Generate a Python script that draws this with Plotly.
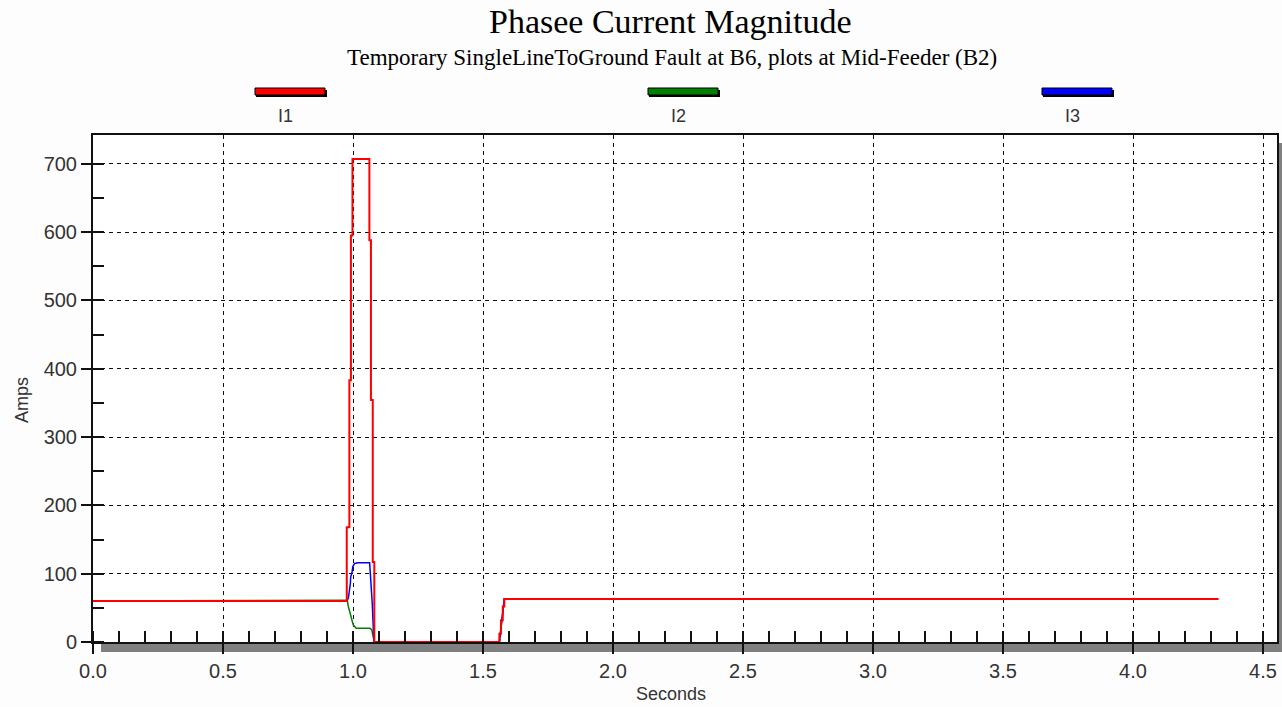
import plotly.graph_objects as go

# ---- data ----
t_i1 = [0.0, 0.976, 0.986, 0.992, 0.998, 1.063, 1.069, 1.076, 1.082, 1.563, 1.569, 1.576, 1.582, 4.328]
v_i1 = [60, 168, 383, 595, 707, 588, 354, 117, 0, 12, 32, 52, 63, 63]

t_i2 = [0.0, 0.976, 0.978, 0.982, 0.991, 0.996, 1.001, 1.012, 1.065, 1.072, 1.078, 1.082, 1.563, 1.582, 4.328]
v_i2 = [60, 60, 61, 52, 40, 32, 25, 20, 20, 18, 8, 0, 0, 63, 63]

t_i3 = [0.0, 0.976, 0.982, 0.986, 0.990, 0.991, 0.996, 0.999, 1.006, 1.019, 1.064, 1.067, 1.074, 1.080, 1.082, 1.563, 1.582, 4.328]
v_i3 = [60, 60, 64, 73, 86, 95, 101, 110, 115, 116, 116, 98, 57, 3, 0, 0, 63, 63]

series_names = ["I1", "I2", "I3"]
series_colors = ["#ff0000", "#008000", "#0000ff"]

# ---- geometry ----
W, H = 1282, 707
ML, MR, MT, MB = 93, 5, 135, 65
PW, PH = W - ML - MR, H - MT - MB

def px(xp):
    return (xp - ML) / PW

def py(yp):
    return (H - MB - yp) / PH

fig = go.Figure()
fig.add_trace(go.Scatter(x=t_i2, y=v_i2, mode="lines", name="I2",
                         line=dict(color=series_colors[1], width=1.5), showlegend=False))
fig.add_trace(go.Scatter(x=t_i3, y=v_i3, mode="lines", name="I3",
                         line=dict(color=series_colors[2], width=1.5), showlegend=False))
fig.add_trace(go.Scatter(x=t_i1, y=v_i1, mode="lines", name="I1", line_shape="hv",
                         line=dict(color=series_colors[0], width=2), showlegend=False))

tickfont = dict(family="Liberation Sans, Arial, sans-serif", size=20, color="#333")
labelfont = dict(family="Liberation Sans, Arial, sans-serif", size=18, color="#333")
axis_common = dict(
    showline=True, mirror=True, linecolor="#111", linewidth=2,
    showgrid=True, gridcolor="#111", gridwidth=1, griddash="4px,4px",
    zeroline=False, ticks="outside", ticklen=10, tickwidth=1.5, tickcolor="#111",
    tickfont=tickfont,
)
fig.update_xaxes(range=[0, PW / 260.0], tick0=0, dtick=0.5, tickformat=".1f",
                 minor=dict(dtick=0.1, ticks="inside", ticklen=11, tickwidth=1.5,
                            tickcolor="#111", showgrid=False),
                 **axis_common)
fig.update_yaxes(range=[0, 742], tick0=0, dtick=100,
                 minor=dict(dtick=50, ticks="inside", ticklen=11, tickwidth=1.5,
                            tickcolor="#111", showgrid=False),
                 **axis_common)

shapes = []
# drop shadow of plot frame
shapes.append(dict(type="rect", xref="paper", yref="paper", layer="below",
                   x0=px(101), x1=px(1286), y0=py(652), y1=py(643),
                   fillcolor="#808080", line=dict(width=0)))
shapes.append(dict(type="rect", xref="paper", yref="paper", layer="below",
                   x0=px(1278), x1=px(1286), y0=py(652), y1=py(143),
                   fillcolor="#808080", line=dict(width=0)))

annotations = []
leg_centers = [290, 683, 1077]
for name, col, cx in zip(series_names, series_colors, leg_centers):
    shapes.append(dict(type="rect", xref="paper", yref="paper",
                       x0=px(cx - 34), x1=px(cx + 37), y0=py(97), y1=py(90),
                       fillcolor="#000", line=dict(width=0)))
    shapes.append(dict(type="rect", xref="paper", yref="paper",
                       x0=px(cx - 35), x1=px(cx + 35), y0=py(95), y1=py(88),
                       fillcolor=col, line=dict(color="#000", width=1)))
    annotations.append(dict(text=name, xref="paper", yref="paper", x=px(cx - 5), y=py(116),
                            xanchor="center", yanchor="middle", showarrow=False,
                            font=labelfont))

annotations += [
    dict(text="Phasee Current Magnitude", xref="paper", yref="paper", x=px(670), y=py(22),
         xanchor="center", yanchor="middle", showarrow=False,
         font=dict(family="Liberation Serif, Times New Roman, serif", size=34, color="#000")),
    dict(text="Temporary SingleLineToGround Fault at B6, plots at Mid-Feeder (B2)",
         xref="paper", yref="paper", x=px(672), y=py(57),
         xanchor="center", yanchor="middle", showarrow=False,
         font=dict(family="Liberation Serif, Times New Roman, serif", size=23, color="#000")),
    dict(text="Seconds", xref="paper", yref="paper", x=px(671), y=py(694),
         xanchor="center", yanchor="middle", showarrow=False, font=labelfont),
    dict(text="Amps", xref="paper", yref="paper", x=px(22), y=py(400),
         xanchor="center", yanchor="middle", showarrow=False, textangle=-90, font=labelfont),
]

fig.update_layout(width=W, height=H, margin=dict(l=ML, r=MR, t=MT, b=MB, autoexpand=False),
                  paper_bgcolor="#fdfdfd", plot_bgcolor="#ffffff",
                  shapes=shapes, annotations=annotations, showlegend=False)

fig.write_html("out.html")
